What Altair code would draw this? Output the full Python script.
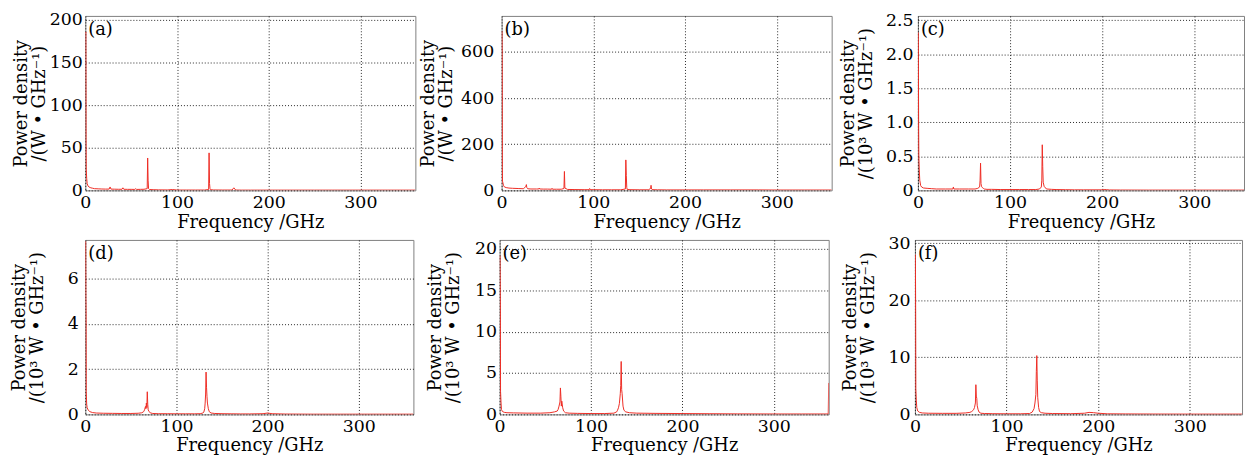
import altair as alt
import pandas as pd

FONT = "DejaVu Serif"
RED = "#ee2d24"

# ---- panel (a): W/GHz ----
A_FREQ = [0.4, 0.6, 0.8, 1.0, 1.5, 2, 3, 4, 6, 8, 10, 14, 18, 22, 26, 27, 28, 32, 36, 40, 41, 42, 46, 50,
          54, 55, 56, 60, 64, 67.5, 68, 68.5, 69, 70, 74, 80, 90, 95, 100, 110, 120, 130, 134.5, 135,
          135.5, 136, 136.5, 140, 150, 160, 162, 164, 170, 180, 200, 220, 250, 270, 300, 330, 360]
A_POWER = [185, 186, 60, 25, 14, 8, 5, 4, 3, 2.5, 2, 1.8, 1.6, 1.5, 1.5, 4, 1.5, 1.4, 1.3, 1.3, 3, 1.3, 1.2, 1.2,
           1.1, 2, 1.1, 1.2, 1.3, 2, 38, 12, 2, 1, 0.8, 0.6, 0.5, 1, 0.4, 0.4, 0.4, 0.4, 1, 44,
           8, 2, 0.8, 0.5, 0.4, 0.4, 3, 0.4, 0.3, 0.3, 0.3, 0.3, 0.3, 0.3, 0.3, 0.3, 0.3]

# ---- panel (b): W/GHz ----
B_FREQ = [0.4, 0.6, 0.8, 1, 2, 3, 5, 8, 12, 18, 24, 26.5, 27, 27.5, 28.5, 32, 38, 40.5, 41, 41.5, 46, 50,
          54.5, 55, 55.5, 60, 65, 68, 68.5, 69, 72, 80, 90, 95.5, 96, 96.5, 100, 110, 120, 130, 135,
          135.5, 136, 136.5, 137, 140, 150, 160, 162.5, 163, 163.5, 165, 170, 180, 200, 220, 250, 280,
          300, 330, 360]
B_POWER = [690, 590, 100, 40, 22, 15, 12, 10, 9, 8, 7, 18, 25, 12, 7, 6, 6, 6, 10, 6, 5.5, 5.5,
           5, 9, 5, 5, 5, 8, 82, 10, 4, 3.5, 3, 3, 8, 3, 3, 2.5, 2.5, 2.5, 6,
           132, 65, 12, 4, 3, 2.5, 2.5, 8, 22, 6, 3, 2.5, 2, 2, 2, 2, 2,
           1.5, 1.5, 1.5]

# ---- panel (c): 10^3 W/GHz ----
C_FREQ = [0.4, 0.6, 0.8, 1, 1.5, 2, 3, 4, 6, 10, 15, 20, 30, 38, 38.5, 39, 45, 55, 62, 65, 67, 67.5, 68,
          68.5, 69, 70, 71, 72, 75, 80, 90, 100, 110, 120, 128, 132, 134, 134.5, 135, 135.5, 136,
          137, 138, 140, 145, 150, 160, 170, 180, 200, 203, 205, 208, 220, 250, 300, 360]
C_POWER = [2.32, 1.63, 0.9, 0.5, 0.3, 0.15, 0.07, 0.05, 0.035, 0.03, 0.025, 0.02, 0.02, 0.02, 0.05, 0.02,
           0.02, 0.02, 0.02, 0.03, 0.05, 0.15, 0.40, 0.10, 0.06, 0.04, 0.03, 0.02, 0.015, 0.015, 0.012,
           0.012, 0.012, 0.012, 0.012, 0.02, 0.05, 0.15, 0.67, 0.35, 0.12, 0.06, 0.04, 0.02, 0.015,
           0.012, 0.01, 0.008, 0.008, 0.008, 0.012, 0.01, 0.006, 0.005, 0.004, 0.004, 0.004]

# ---- panel (d): 10^3 W/GHz ----
D_FREQ = [0.4, 0.6, 0.8, 1, 1.5, 2, 3, 5, 8, 12, 20, 30, 40, 50, 58, 62, 64, 65, 66, 66.5, 67, 67.5, 68,
          68.5, 69, 70, 71, 72, 74, 80, 90, 100, 110, 120, 126, 129, 130, 131, 131.5, 132, 132.5,
          133, 133.5, 134, 135, 136, 138, 142, 150, 160, 170, 180, 195, 200, 205, 220, 250, 300, 360]
D_POWER = [7.65, 5.15, 4.6, 1.0, 0.45, 0.3, 0.2, 0.12, 0.08, 0.06, 0.05, 0.045, 0.04, 0.04, 0.05, 0.07,
           0.12, 0.2, 0.35, 0.25, 0.5, 0.3, 1.0, 0.45, 0.2, 0.12, 0.08, 0.06, 0.04, 0.03, 0.03, 0.025,
           0.025, 0.025, 0.03, 0.06, 0.1, 0.25, 0.5, 0.9, 1.87, 1.2, 0.8, 0.5, 0.25, 0.12, 0.06, 0.04,
           0.03, 0.025, 0.02, 0.02, 0.03, 0.06, 0.03, 0.015, 0.01, 0.01, 0.01]

# ---- panel (e): 10^3 W/GHz ----
E_FREQ = [0.4, 0.6, 0.8, 1, 1.5, 2, 3, 5, 8, 15, 30, 45, 55, 60, 63, 64, 65, 66, 66.5, 67, 67.5, 68, 69,
          70, 72, 76, 85, 100, 115, 125, 128, 129, 130, 131, 132, 132.5, 133, 133.5, 134, 135, 136,
          138, 142, 150, 170, 200, 230, 260, 300, 330, 355, 359.5, 360]
E_POWER = [19.2, 16.2, 12.7, 2.8, 1.5, 0.6, 0.35, 0.25, 0.2, 0.18, 0.15, 0.15, 0.2, 0.3, 0.4, 0.6, 1.0,
           1.5, 3.2, 2.2, 1.0, 1.6, 0.8, 0.4, 0.2, 0.15, 0.12, 0.1, 0.1, 0.15, 0.3, 0.5, 0.8, 1.3,
           2.5, 3.5, 6.4, 3.0, 2.5, 1.0, 0.5, 0.3, 0.2, 0.15, 0.12, 0.1, 0.08, 0.06, 0.05, 0.05, 0.05,
           0.05, 3.8]

# ---- panel (f): 10^3 W/GHz ----
F_FREQ = [0.4, 0.6, 0.8, 1, 1.5, 2, 3, 5, 8, 15, 30, 45, 55, 60, 62, 64, 65, 66, 66.5, 67, 67.5, 68, 69,
          70, 72, 76, 85, 100, 115, 125, 128, 130, 131, 132, 132.5, 133, 133.5, 134, 135, 136, 138,
          142, 150, 170, 185, 190, 195, 200, 210, 230, 260, 300, 330, 360]
F_POWER = [28, 24.5, 17.8, 4.5, 2.5, 1.2, 0.6, 0.35, 0.25, 0.2, 0.18, 0.18, 0.25, 0.35, 0.5, 0.8, 1.2, 2,
           5.2, 3.2, 2.8, 1.5, 0.8, 0.4, 0.2, 0.15, 0.12, 0.1, 0.1, 0.15, 0.4, 1.0, 2, 3.5, 7.5,
           10.3, 6, 3, 1.2, 0.5, 0.3, 0.2, 0.15, 0.12, 0.2, 0.35, 0.3, 0.2, 0.1, 0.08, 0.06, 0.05,
           0.05, 0.05]

TAGS = ["(a)", "(b)", "(c)", "(d)", "(e)", "(f)"]
X_TICKS = [0, 100, 200, 300]
X_TITLE = "Frequency /GHz"
TITLE_W = ["Power density", "/(W • GHz⁻¹)"]
TITLE_KW = ["Power density", "/(10³ W • GHz⁻¹)"]

Y_TICKS = [
    [0, 50, 100, 150, 200],
    [0, 200, 400, 600],
    [0, 0.5, 1.0, 1.5, 2.0, 2.5],
    [0, 2, 4, 6],
    [0, 5, 10, 15, 20],
    [0, 10, 20, 30],
]
Y_MAX = [204.7, 756, 2.563, 7.71, 21.1, 30.57]
X_MAX = [360, 360, 354, 360, 360, 357]

SERIES = [(A_FREQ, A_POWER), (B_FREQ, B_POWER), (C_FREQ, C_POWER),
          (D_FREQ, D_POWER), (E_FREQ, E_POWER), (F_FREQ, F_POWER)]

# layout / style per panel (not data)
WIDTHS = [333, 333, 329, 331, 332, 330]
LABEL_PAD = [3, 8, 5, 7, 3, 5]
TITLE_PAD = [1, 5, 10, 21, 12, 11]
XTITLE_PAD = [3, 3, 3, 2, 2, 2]


def panel(i):
    freq, power = SERIES[i]
    df = pd.DataFrame({"f": freq, "p": power})
    ytitle = TITLE_W if i < 2 else TITLE_KW
    if i == 2:
        yaxis = alt.Axis(values=Y_TICKS[i], title=ytitle,
                         labelExpr="datum.value == 0 ? '0' : format(datum.value, '.1f')",
                         labelPadding=LABEL_PAD[i], titlePadding=TITLE_PAD[i])
    else:
        yaxis = alt.Axis(values=Y_TICKS[i], title=ytitle, format="d",
                         labelPadding=LABEL_PAD[i], titlePadding=TITLE_PAD[i])
    xaxis = alt.Axis(values=X_TICKS, title=X_TITLE, format="d", labelPadding=3,
                     titlePadding=XTITLE_PAD[i])
    line = alt.Chart(df).mark_line(color=RED, strokeWidth=1, clip=True).encode(
        x=alt.X("f:Q", scale=alt.Scale(domain=[0, X_MAX[i]], nice=False, zero=False), axis=xaxis),
        y=alt.Y("p:Q", scale=alt.Scale(domain=[0, Y_MAX[i]], nice=False), axis=yaxis),
    )
    tag = alt.Chart(alt.Data(values=[{"t": TAGS[i]}])).mark_text(
        font=FONT, fontSize=18, align="left", baseline="top", color="black"
    ).encode(x=alt.value(3), y=alt.value(5), text="t:N")
    return alt.layer(line, tag).properties(width=WIDTHS[i], height=176)


row1 = alt.hconcat(panel(0), panel(1), panel(2), spacing=87, bounds="flush")
row2 = alt.hconcat(panel(3), panel(4), panel(5), spacing=87, bounds="flush")

chart = alt.vconcat(row1, row2, spacing=1).properties(
    padding={"left": 2, "top": 0, "right": 0, "bottom": 0}
).configure_view(
    stroke="#808080", strokeWidth=1
).configure_axis(
    labelFont=FONT, titleFont=FONT, labelFontSize=17.5, titleFontSize=18,
    labelColor="black", titleColor="black", titleFontWeight="normal",
    titleLineHeight=18, ticks=False, tickSize=0, domain=False,
    grid=True, gridColor="#000000", gridDash=[1, 2], gridOpacity=0.85, gridWidth=1,
    labelFlush=False, labelOverlap=False, minExtent=0,
)

chart.save("out.html", embed_options={"renderer": "svg", "actions": False})
